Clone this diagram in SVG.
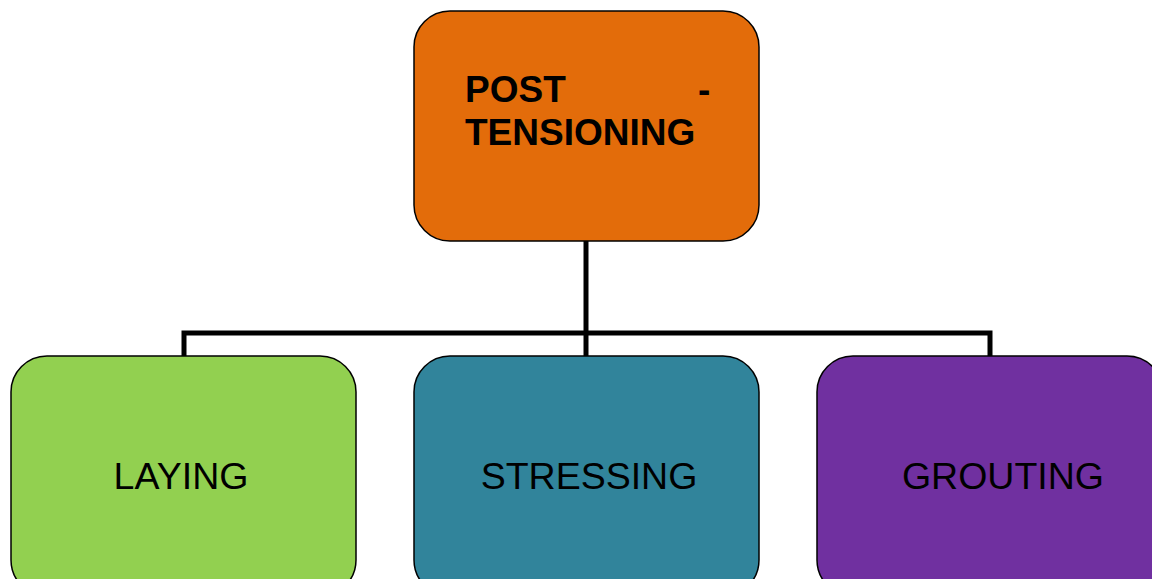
<svg xmlns="http://www.w3.org/2000/svg" width="1152" height="579" viewBox="0 0 1152 579">
  <style>
    .box { stroke: #000; stroke-width: 1.5; }
    .wire { fill: none; stroke: #000; stroke-width: 5; stroke-linejoin: miter; }
    .lbl { font-family: "Liberation Sans", Arial, sans-serif; font-size: 37.5px; fill: #000; }
    .bold { font-weight: bold; font-size: 37px; }
  </style>
  <rect width="1152" height="579" fill="#fff"/>

  <!-- tree connectors -->
  <g id="connectors">
    <path class="wire" d="M586 241 V356"/>
    <path class="wire" d="M184 356 V333 H990 V356"/>
  </g>

  <g id="node-post-tensioning">
    <rect class="box" x="414" y="11" width="345" height="230" rx="36" fill="#E36C0A"/>
    <text class="lbl bold" x="465" y="102">POST</text>
    <text class="lbl bold" x="698" y="102">-</text>
    <text class="lbl bold" x="465" y="145">TENSIONING</text>
  </g>

  <g id="node-laying">
    <rect class="box" x="11" y="356" width="345" height="240" rx="36" fill="#92D050"/>
    <text class="lbl" x="181" y="489" text-anchor="middle">LAYING</text>
  </g>

  <g id="node-stressing">
    <rect class="box" x="414" y="356" width="345" height="240" rx="36" fill="#31849B"/>
    <text class="lbl" x="589" y="489" text-anchor="middle">STRESSING</text>
  </g>

  <g id="node-grouting">
    <rect class="box" x="817" y="356" width="346" height="240" rx="36" fill="#7030A0"/>
    <text class="lbl" x="1003" y="489" text-anchor="middle">GROUTING</text>
  </g>
</svg>
